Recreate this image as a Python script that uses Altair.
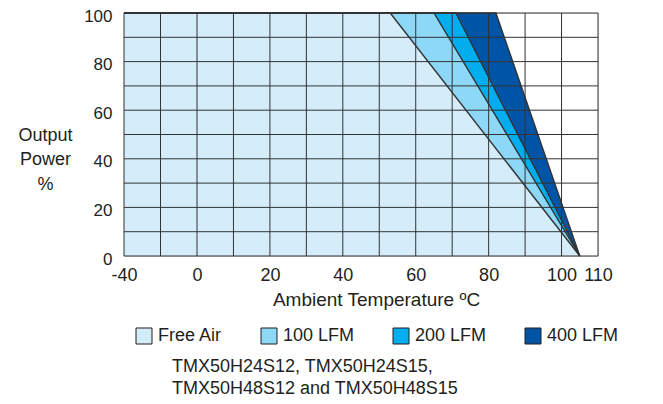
import altair as alt
import pandas as pd

# ---- data ----
series = ["Free Air", "100 LFM", "200 LFM", "400 LFM"]
colors = ["#d5edfa", "#8dd7f7", "#00aeef", "#0054a5"]
knee_temp = [53, 65, 71, 82]          # temperature where derating starts (output 100 %)
end_temp = [105, 105, 105, 105]       # temperature where output reaches 0 %
min_temp = -40
full_power = 100

x_ticks = [-40, 0, 20, 40, 60, 80, 100, 110]
x_grid = [-40, -20, 0, 10, 20, 30, 40, 50, 60, 70, 80, 90, 100, 110]
y_ticks = [0, 20, 40, 60, 80, 100]
y_grid = [0, 10, 20, 30, 40, 50, 60, 70, 80, 90, 100]

rows = []
for s, k, e in zip(series, knee_temp, end_temp):
    rows += [
        {"series": s, "T": min_temp, "P": full_power},
        {"series": s, "T": k, "P": full_power},
        {"series": s, "T": e, "P": 0},
    ]
df = pd.DataFrame(rows)

FONT = "Liberation Sans"
TXT = "#231f20"
GRID = "#333333"

# broken x axis: -40..0 is drawn at half scale
x_scale = alt.Scale(domain=[-40, 0, 110], range=[0, 73, 474], nice=False, zero=False)
y_scale = alt.Scale(domain=[0, 100], nice=False, zero=False)

x_axis = alt.Axis(values=x_ticks, grid=False, ticks=False, domain=False,
                  labelExpr="datum.value + ''",
                  labelFont=FONT, labelFontSize=18, labelColor=TXT, labelPadding=10,
                  labelFlush=False, labelOverlap=False,
                  title="Ambient Temperature ºC", titleFont=FONT, titleFontSize=19,
                  titleFontWeight="normal", titleColor=TXT,
                  titleX=252, titleY=43, titleBaseline="middle", titleAlign="center")
y_axis = alt.Axis(values=y_ticks, grid=False, ticks=False, domain=False,
                  labelFont=FONT, labelFontSize=17, labelColor=TXT, labelPadding=12,
                  labelOffset=3,
                  title=["Output", "Power", "%"], titleFont=FONT, titleFontSize=18,
                  titleFontWeight="normal", titleColor=TXT, titleAngle=0,
                  titleX=-79, titleY=122, titleAlign="center", titleBaseline="middle",
                  titleLineHeight=24.5)

X = alt.X("T:Q", scale=x_scale, axis=x_axis)
Y = alt.Y("P:Q", scale=y_scale, axis=y_axis)

color = alt.Color(
    "series:N",
    scale=alt.Scale(domain=series, range=colors),
    title=None,
    legend=alt.Legend(orient="none", legendX=11, legendY=314, direction="horizontal",
                      columns=4, symbolType="square", symbolSize=256,
                      symbolStrokeColor=TXT, symbolStrokeWidth=1, symbolOpacity=1,
                      labelFont=FONT, labelFontSize=18, labelColor=TXT,
                      labelOffset=5, columnPadding=36),
)

base = alt.Chart(df)
areas = [
    base.transform_filter(alt.datum.series == s)
    .mark_area(opacity=1, line=False)
    .encode(x=X, y=Y, color=color)
    for s in reversed(series)
]

vgrid = alt.Chart(pd.DataFrame({"T": x_grid})).mark_rule(color=GRID, strokeWidth=1).encode(x=X)
hgrid = alt.Chart(pd.DataFrame({"P": y_grid})).mark_rule(color=GRID, strokeWidth=1).encode(y=Y)

lines = base.mark_line(color=GRID, strokeWidth=1.4).encode(x=X, y=Y, detail="series:N")

chart = alt.layer(*areas, vgrid, hgrid, lines).properties(
    width=474,
    height=243,
    autosize=alt.AutoSizeParams(type="none"),
    padding={"left": 116, "top": 5, "right": 50, "bottom": 143},
    title=alt.TitleParams(
        text=["TMX50H24S12, TMX50H24S15,", "TMX50H48S12 and TMX50H48S15"],
        orient="bottom", anchor="start", dx=154, offset=12,
        font=FONT, fontSize=18, fontWeight="normal", color=TXT, lineHeight=22,
    ),
).configure_view(stroke=None).configure(background="white")

chart.save("out.html", embed_options={"renderer": "svg", "actions": False})
